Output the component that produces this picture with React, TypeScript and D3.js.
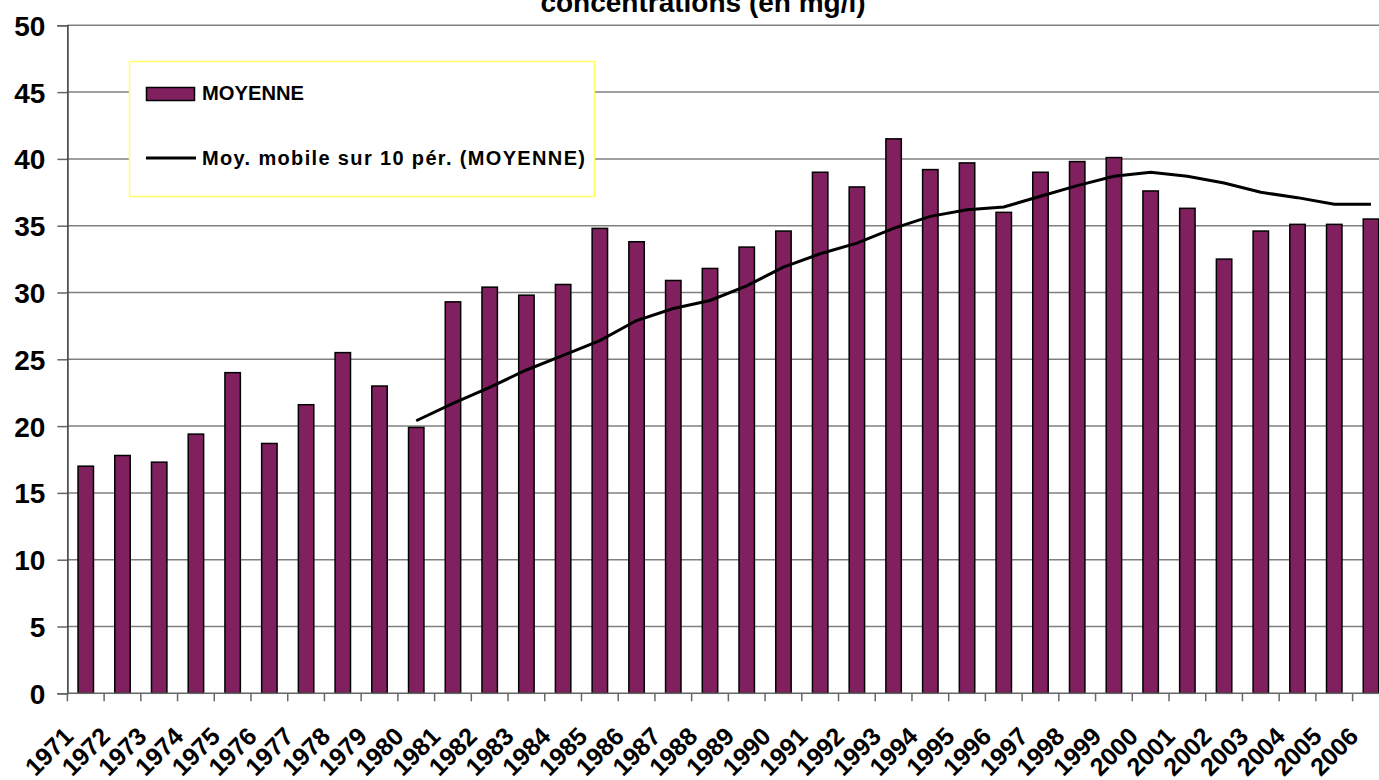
import { useRef, useEffect } from "react";
import * as d3 from "d3";

const years = [
  "1971", "1972", "1973", "1974", "1975", "1976", "1977", "1978", "1979", "1980",
  "1981", "1982", "1983", "1984", "1985", "1986", "1987", "1988", "1989", "1990",
  "1991", "1992", "1993", "1994", "1995", "1996", "1997", "1998", "1999", "2000",
  "2001", "2002", "2003", "2004", "2005", "2006",
];

// MOYENNE
const moyenne = [
  17.0, 17.8, 17.3, 19.4, 24.0, 18.7, 21.6, 25.5, 23.0, 19.9,
  29.3, 30.4, 29.8, 30.6, 34.8, 33.8, 30.9, 31.8, 33.4, 34.6,
  39.0, 37.9, 41.5, 39.2, 39.7, 36.0, 39.0, 39.8, 40.1, 37.6,
  36.3, 32.5, 34.6, 35.1, 35.1, 35.5,
];

// moving average (10 periods), starts at 1980
const movAvgYears = [
  "1980", "1981", "1982", "1983", "1984", "1985", "1986", "1987", "1988", "1989",
  "1990", "1991", "1992", "1993", "1994", "1995", "1996", "1997", "1998", "1999",
  "2000", "2001", "2002", "2003", "2004", "2005", "2006",
];
const movAvg = [
  20.4, 21.7, 22.9, 24.2, 25.3, 26.4, 27.9, 28.8, 29.4, 30.5,
  31.9, 32.9, 33.7, 34.8, 35.7, 36.2, 36.4, 37.2, 38.0, 38.7,
  39.0, 38.7, 38.2, 37.5, 37.1, 36.6, 36.6,
];

const yTicks = [0, 5, 10, 15, 20, 25, 30, 35, 40, 45, 50];

const titleText = "concentrations (en mg/l)";
const legendBar = "MOYENNE";
const legendLine = "Moy. mobile sur 10 pér. (MOYENNE)";

const W = 1379;
const H = 780;
const FONT = "Arial, 'Liberation Sans', sans-serif";
const BAR = "#80205f";

export default function App() {
  const ref = useRef<SVGSVGElement>(null);

  useEffect(() => {
    const svg = d3.select(ref.current);
    svg.selectAll("*").remove();

    const left = 67.4;
    const x = d3.scaleBand<string>()
      .domain(years)
      .range([left, left + 36 * 36.72])
      .paddingInner(0.58)
      .paddingOuter(0.29);
    const y = d3.scaleLinear().domain([0, 50]).range([693.3, 25.3]);

    svg.append("rect").attr("width", W).attr("height", H).attr("fill", "#fff");

    // gridlines
    svg.append("g")
      .selectAll("line")
      .data(yTicks.filter((d) => d > 0))
      .join("line")
      .attr("x1", left)
      .attr("x2", W + 20)
      .attr("y1", (d) => y(d))
      .attr("y2", (d) => y(d))
      .attr("stroke", "#808080")
      .attr("stroke-width", 1.5);

    // y axis
    const yAxis = svg.append("g")
      .attr("transform", `translate(${left},0)`)
      .call(d3.axisLeft(y).tickValues(yTicks).tickSize(10).tickPadding(12).tickFormat(d3.format("d")));
    yAxis.select(".domain").attr("stroke", "#333").attr("stroke-width", 1.5);
    yAxis.selectAll(".tick line").attr("stroke", "#666").attr("stroke-width", 1.5);
    yAxis.selectAll(".tick text")
      .attr("font-family", FONT)
      .attr("font-weight", "bold")
      .attr("font-size", 28)
      .attr("fill", "#000")
      .attr("dy", "0.36em");

    // bars
    svg.append("g")
      .selectAll("rect")
      .data(years)
      .join("rect")
      .attr("x", (d) => x(d)!)
      .attr("width", x.bandwidth())
      .attr("y", (d, i) => y(moyenne[i]))
      .attr("height", (d, i) => y(0) - y(moyenne[i]))
      .attr("fill", BAR)
      .attr("stroke", "#000")
      .attr("stroke-width", 1.5);

    // x axis baseline + ticks at band boundaries
    const step = x.step();
    svg.append("line")
      .attr("x1", left)
      .attr("x2", W + 20)
      .attr("y1", y(0))
      .attr("y2", y(0))
      .attr("stroke", "#666")
      .attr("stroke-width", 1.5);
    svg.append("g")
      .selectAll("line")
      .data(d3.range(years.length + 1))
      .join("line")
      .attr("x1", (i) => left + i * step)
      .attr("x2", (i) => left + i * step)
      .attr("y1", y(0))
      .attr("y2", y(0) + 8)
      .attr("stroke", "#666")
      .attr("stroke-width", 1.5);

    // x labels
    svg.append("g")
      .selectAll("text")
      .data(years)
      .join("text")
      .attr("transform", (d) => `translate(${x(d)! + x.bandwidth() / 2 - 11},738) rotate(-45)`)
      .attr("text-anchor", "end")
      .attr("font-family", FONT)
      .attr("font-weight", "bold")
      .attr("font-size", 25)
      .text((d) => d);

    // moving average line
    const line = d3.line<number>()
      .x((d, i) => x(movAvgYears[i])! + x.bandwidth() / 2)
      .y((d) => y(d));
    svg.append("path")
      .datum(movAvg)
      .attr("d", line)
      .attr("fill", "none")
      .attr("stroke", "#000")
      .attr("stroke-width", 3);

    // title (clipped at top)
    svg.append("text")
      .attr("x", 703)
      .attr("y", 12)
      .attr("text-anchor", "middle")
      .attr("font-family", FONT)
      .attr("font-weight", "bold")
      .attr("font-size", 28)
      .text(titleText);

    // legend
    const lg = svg.append("g");
    lg.append("rect")
      .attr("x", 129.5)
      .attr("y", 61.5)
      .attr("width", 465)
      .attr("height", 135)
      .attr("fill", "#fff")
      .attr("stroke", "#ffff66")
      .attr("stroke-width", 1.5);
    lg.append("rect")
      .attr("x", 146.5)
      .attr("y", 87.5)
      .attr("width", 48)
      .attr("height", 13)
      .attr("fill", BAR)
      .attr("stroke", "#000")
      .attr("stroke-width", 1.5);
    lg.append("text")
      .attr("x", 202)
      .attr("y", 99.5)
      .attr("font-family", FONT)
      .attr("font-weight", "bold")
      .attr("font-size", 20)
      .attr("textLength", 102)
      .attr("lengthAdjust", "spacingAndGlyphs")
      .text(legendBar);
    lg.append("line")
      .attr("x1", 146)
      .attr("x2", 196)
      .attr("y1", 158)
      .attr("y2", 158)
      .attr("stroke", "#000")
      .attr("stroke-width", 3);
    lg.append("text")
      .attr("x", 202)
      .attr("y", 164.5)
      .attr("font-family", FONT)
      .attr("font-weight", "bold")
      .attr("font-size", 20)
      .attr("textLength", 383)
      .attr("lengthAdjust", "spacing")
      .text(legendLine);
  }, []);

  return (
    <div style={{ position: "fixed", left: 0, top: 0, width: W, height: H, overflow: "hidden" }}>
      <svg ref={ref} width={W} height={H} style={{ display: "block" }} />
    </div>
  );
}
